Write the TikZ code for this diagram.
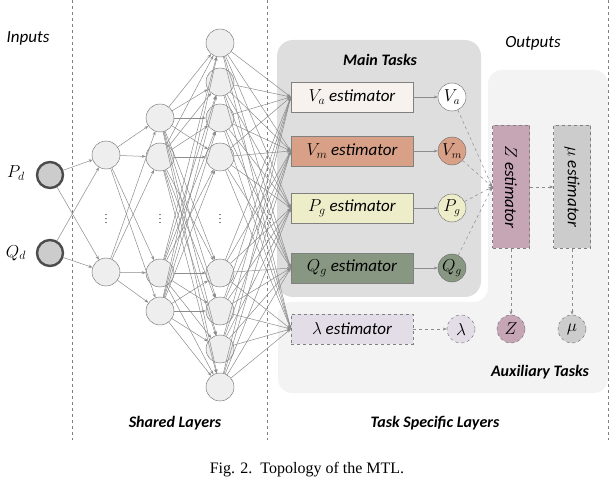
\documentclass[tikz,border=0pt]{standalone}
\usepackage{fontspec}
\setmainfont{Liberation Serif}
\newfontfamily\lbl{Carlito}
\usetikzlibrary{arrows.meta}
\definecolor{neu}{HTML}{EEEEEE}
\definecolor{edge}{HTML}{8C8C8C}
\definecolor{mainbg}{HTML}{DEDEDE}
\definecolor{auxbg}{HTML}{F3F3F3}
\definecolor{cVa}{HTML}{F7F2EE}
\definecolor{cVm}{HTML}{D9A088}
\definecolor{cPg}{HTML}{EEEDCA}
\definecolor{cQg}{HTML}{889782}
\definecolor{cLa}{HTML}{E3DDE8}
\definecolor{cZ}{HTML}{C6A5B5}
\definecolor{cMu}{HTML}{CCCCCC}
\begin{document}
\begin{tikzpicture}[x=1pt,y=-1pt,
  neuron/.style={circle,draw=gray!80!black,fill=neu,minimum size=28pt,inner sep=0pt},
  inp/.style={circle,draw=black!70,line width=2.4pt,fill=gray!40,minimum size=26pt,inner sep=0pt},
  link/.style={draw=edge,line width=0.5pt,-{Stealth[length=4pt,width=3pt]}},
  dlink/.style={link,dashed},
  est/.style={draw=gray,minimum width=122pt,minimum height=30pt,inner sep=0pt,font=\lbl\fontsize{17}{19}\selectfont\itshape},
  onode/.style={circle,draw=gray!80!black,minimum size=28pt,inner sep=0pt,font=\fontsize{16}{17}\selectfont},
  vest/.style={draw=gray,dashed,minimum width=37pt,minimum height=123pt,inner sep=0pt,font=\lbl\fontsize{17}{19}\selectfont\itshape},
  ttl/.style={font=\lbl\fontsize{17}{19}\selectfont\itshape},
  btl/.style={font=\lbl\fontsize{16}{18}\selectfont\bfseries\itshape},
  sep/.style={draw=gray,dashed,line width=0.8pt}]
\useasboundingbox (0,0) rectangle (614,484);
% backgrounds
\fill[auxbg,rounded corners=14pt] (278,302) -- (488,302) -- (488,70) -- (608,70) -- (608,393) -- (278,393) -- cycle;
\fill[mainbg,rounded corners=16pt] (277,40) rectangle (481,297);
% separators
\draw[sep] (72,0) -- (72,440);
\draw[sep] (267,0) -- (267,440);
\draw[sep] (608,0) -- (608,440);
% texts
\node[ttl] (tin) at (28,38) {Inputs};
\node[ttl] (tout) at (533,43) {Outputs};
\node[btl] (tmain) at (380,60) {Main Tasks};
\node[btl] (taux) at (540,372) {Auxiliary Tasks};
\node[btl] (tsh) at (175,423) {Shared Layers};
\node[btl] (tts) at (435,423) {Task Specific Layers};
\node[font=\fontsize{16}{18}\selectfont] (cap) at (307,470) {Fig. 2.\ \ Topology of the MTL.};
% inputs
\node[inp] (i1) at (50,175) {};
\node[inp] (i2) at (50,253) {};
\node[font=\fontsize{17}{19}\selectfont] (li1) at (16,173) {$P_d$};
\node[font=\fontsize{17}{19}\selectfont] (li2) at (16,253) {$Q_d$};
% hidden layers
\foreach \y [count=\k] in {155,272} \node[neuron] (a\k) at (106,\y) {};
\foreach \y [count=\k] in {118,157,273,311} \node[neuron] (b\k) at (160,\y) {};
\foreach \y [count=\k] in {43,82,118,157,273,311,349,387} \node[neuron] (c\k) at (220,\y) {};
\foreach \x [count=\k] in {106,160,220,270} \node[inner sep=0pt] (d\k) at (\x,216) {$\vdots$};
% estimators
\node[est,fill=cVa] (eVa) at (352,97) {$V_a$ estimator};
\node[est,fill=cVm] (eVm) at (352,151) {$V_m$ estimator};
\node[est,fill=cPg] (ePg) at (352,208) {$P_g$ estimator};
\node[est,fill=cQg] (eQg) at (352,268) {$Q_g$ estimator};
\node[est,dashed,fill=cLa] (eLa) at (352,329) {$\lambda$ estimator};
\node[vest,fill=cZ] (eZ) at (511,187) {\rotatebox{-90}{$Z$ estimator}};
\node[vest,fill=cMu] (eMu) at (572,187) {\rotatebox{-90}{$\mu$ estimator}};
% outputs
\node[onode,fill=white] (oVa) at (452,97) {$V_a$};
\node[onode,fill=cVm] (oVm) at (452,151) {$V_m$};
\node[onode,fill=cPg] (oPg) at (452,208) {$P_g$};
\node[onode,fill=cQg] (oQg) at (452,268) {$Q_g$};
\node[onode,dashed,fill=cLa] (oLa) at (461,329) {$\lambda$};
\node[onode,dashed,fill=cZ] (oZ) at (511,329) {$Z$};
\node[onode,dashed,fill=cMu] (oMu) at (572,329) {$\mu$};
% dense links
\foreach \i in {1,2} \foreach \j in {1,2} \draw[link] (i\i) -- (a\j);
\foreach \i in {1,2} \foreach \j in {1,...,4} \draw[link] (a\i) -- (b\j);
\foreach \i in {1,...,4} \foreach \j in {1,...,8} \draw[link] (b\i) -- (c\j);
\foreach \i in {1,...,8} \foreach \e in {eVa,eVm,ePg,eQg,eLa} \draw[link] (c\i) -- (\e.west);
% task links
\foreach \t in {Va,Vm,Pg,Qg} {
  \draw[link] (e\t) -- (o\t);
  \draw[dlink] (o\t) -- (eZ.west);
}
\draw[dlink] (eLa) -- (oLa);
\draw[dlink] (eZ) -- (eMu);
\draw[dlink] (eZ) -- (oZ);
\draw[dlink] (eMu) -- (oMu);
\end{tikzpicture}
\end{document}
